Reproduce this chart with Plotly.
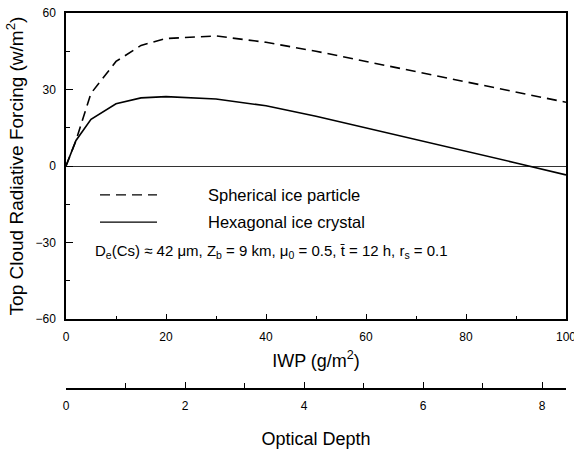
import plotly.graph_objects as go

# Ice water path (g/m^2) and top-of-cloud radiative forcing (W/m^2)
iwp = [0, 2, 5, 10, 15, 20, 30, 40, 50, 60, 70, 80, 90, 100]
forcing_spherical = [0, 10, 28.5, 41, 47.3, 50, 51, 48.5, 45, 41, 37, 33, 29, 25]
forcing_hexagonal = [0, 10, 18.3, 24.4, 26.7, 27.2, 26.3, 23.6, 19.5, 15, 10.3, 5.7, 1.2, -3.5]

series_names = ["Spherical ice particle", "Hexagonal ice crystal"]
y_ticks = [-60, -30, 0, 30, 60]
x_ticks = [0, 20, 40, 60, 80, 100]
tau_ticks = [0, 2, 4, 6, 8]
tau_max = 8.4

FONT = "Liberation Sans, Arial, Helvetica, sans-serif"

fig = go.Figure()
fig.add_trace(go.Scatter(x=iwp, y=forcing_spherical, mode="lines", name=series_names[0],
                         line=dict(color="black", width=1.6, dash="10px,6px")))
fig.add_trace(go.Scatter(x=iwp, y=forcing_hexagonal, mode="lines", name=series_names[1],
                         line=dict(color="black", width=1.6)))
# carrier trace so the optical-depth axis gets drawn
fig.add_trace(go.Scatter(x=[None], y=[None], xaxis="x2", yaxis="y", showlegend=False,
                         hoverinfo="skip"))

# hand-drawn key inside the frame
key_rows = [(0.573, "10px,6px", series_names[0]), (0.509, None, series_names[1])]
for yp, dash, label in key_rows:
    line = dict(color="black", width=1.4)
    if dash:
        line["dash"] = dash
    fig.add_shape(type="line", xref="paper", yref="paper", x0=0.068, x1=0.182,
                  y0=yp, y1=yp, line=line)
    fig.add_annotation(xref="paper", yref="paper", x=0.28, y=yp, text=label,
                       showarrow=False, xanchor="left", yanchor="middle",
                       font=dict(family=FONT, size=16.5, color="black"))

fig.add_annotation(xref="paper", yref="paper", x=0.054, y=0.441,
                   text="D<sub>e</sub>(Cs) \u2248 42 \u03bcm, Z<sub>b</sub> = 9 km, "
                        "\u03bc<sub>0</sub> = 0.5, t\u0304 = 12 h, r<sub>s</sub> = 0.1",
                   showarrow=False, xanchor="left", yanchor="middle",
                   font=dict(family=FONT, size=15, color="black"))

axis_common = dict(showgrid=False, showline=True, linecolor="black", linewidth=1.5,
                   ticks="inside", tickcolor="black", tickwidth=1.2,
                   ticklabeloverflow="allow", automargin=False,
                   tickfont=dict(family=FONT, size=12, color="black"))

fig.update_layout(
    width=574, height=449,
    margin=dict(l=66, r=8, t=13, b=10),
    paper_bgcolor="white", plot_bgcolor="white",
    showlegend=False,
    xaxis=dict(axis_common, range=[0, 100], tickvals=x_ticks, ticklen=5, mirror=True,
               zeroline=False, anchor="y", ticklabelstandoff=6,
               minor=dict(dtick=10, ticklen=3, ticks="inside", tickcolor="black"),
               title=dict(text="IWP (g/m<sup>2</sup>)", standoff=11,
                          font=dict(family=FONT, size=18, color="black"))),
    xaxis2=dict(axis_common, range=[0, tau_max], tickvals=tau_ticks, ticklen=6,
                overlaying="x", anchor="free", position=0.1174, side="bottom",
                zeroline=False, ticklabelstandoff=6,
                minor=dict(dtick=1, ticklen=5, ticks="inside", tickcolor="black"),
                title=dict(text="Optical Depth", standoff=23,
                           font=dict(family=FONT, size=18, color="black"))),
    yaxis=dict(axis_common, range=[-60, 60], tickvals=y_ticks, ticklen=7, mirror=True,
               domain=[0.2817, 1], ticklabelstandoff=6,
               zeroline=True, zerolinecolor="#333", zerolinewidth=1,
               minor=dict(dtick=15, ticklen=4, ticks="inside", tickcolor="black"),
               title=dict(text="Top Cloud Radiative Forcing (w/m<sup>2</sup>)", standoff=7,
                          font=dict(family=FONT, size=19, color="black"))),
)

fig.write_html("out.html")
